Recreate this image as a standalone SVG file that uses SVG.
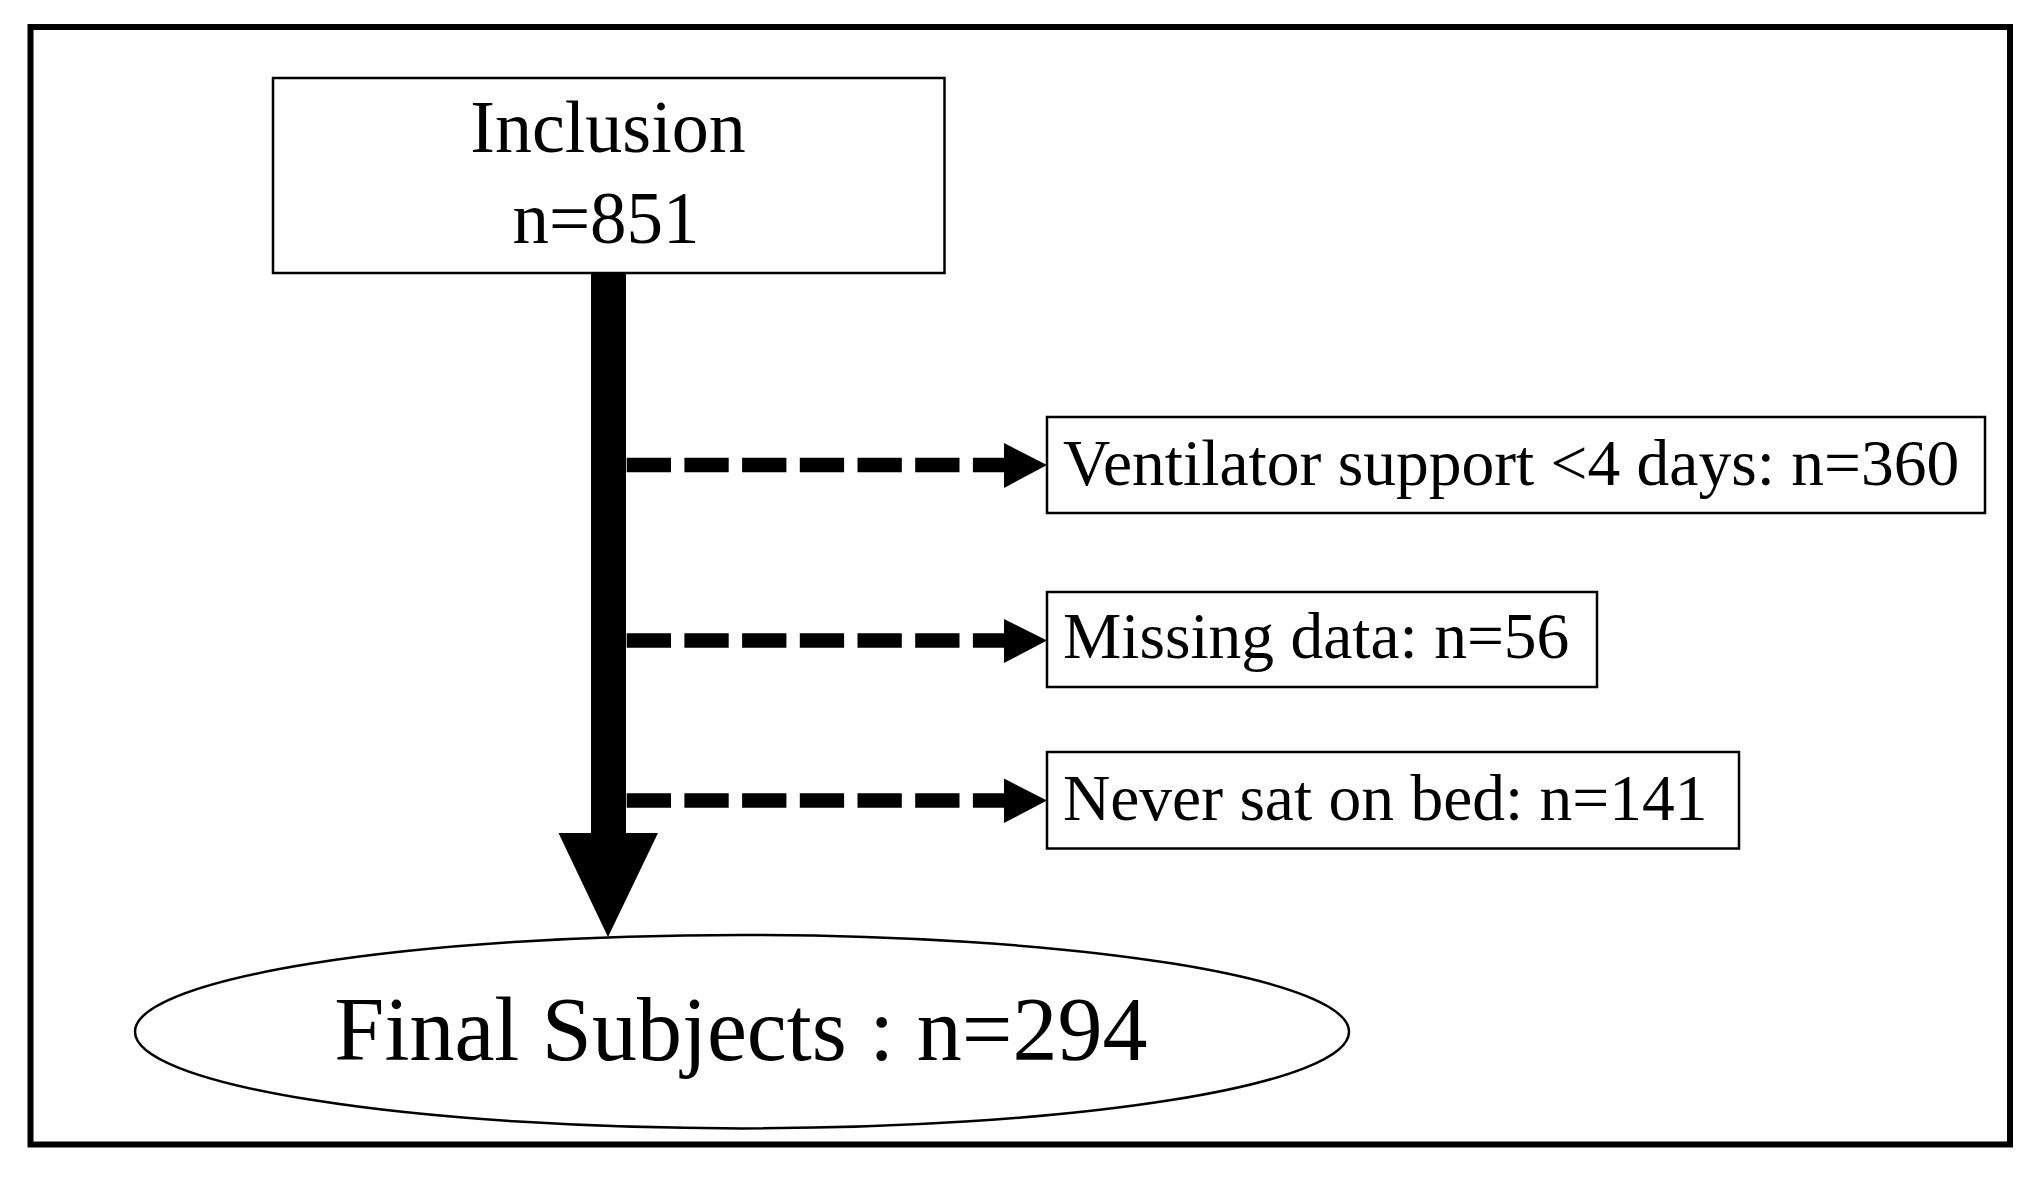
<svg xmlns="http://www.w3.org/2000/svg" width="2044" height="1180" viewBox="0 0 2044 1180">
<style>
.t{font-family:"Liberation Serif","Times New Roman",serif;fill:#000}
.box{fill:#fff;stroke:#000;stroke-width:2.5}
.dash{stroke:#000;stroke-width:14.5;stroke-dasharray:44.3 13.4;fill:none}
</style>
<rect width="2044" height="1180" fill="#fff"/>
<rect x="30.5" y="27" width="1979.5" height="1117.5" fill="none" stroke="#000" stroke-width="6"/>
<g id="connectors">
<rect x="591" y="273" width="35" height="561" fill="#000"/>
<polygon points="558.5,833 658,833 608,937" fill="#000"/>
<line class="dash" x1="626.7" y1="465" x2="1005" y2="465"/>
<polygon points="1004,443 1004,488 1047,465" fill="#000"/>
<line class="dash" x1="626.7" y1="640.5" x2="1005" y2="640.5"/>
<polygon points="1004,619 1004,663 1047,640.5" fill="#000"/>
<line class="dash" x1="626.7" y1="800.5" x2="1005" y2="800.5"/>
<polygon points="1004,778.5 1004,823 1047,800.5" fill="#000"/>
</g>
<g id="inclusion">
<rect class="box" x="273" y="78" width="671.5" height="195"/>
<text class="t" x="608" y="152" font-size="74" text-anchor="middle">Inclusion</text>
<text class="t" x="606" y="243" font-size="73" text-anchor="middle">n=851</text>
</g>
<g id="ventilator">
<rect class="box" x="1047" y="417" width="938" height="96"/>
<text class="t" x="1063" y="485" font-size="65.5">Ventilator support &lt;4 days: n=360</text>
</g>
<g id="missing">
<rect class="box" x="1047" y="592" width="550" height="95"/>
<text class="t" x="1063" y="658" font-size="65.5">Missing data: n=56</text>
</g>
<g id="never">
<rect class="box" x="1047" y="752" width="692" height="96.5"/>
<text class="t" x="1063" y="820" font-size="65.5">Never sat on bed: n=141</text>
</g>
<g id="final">
<ellipse cx="742" cy="1031.7" rx="607" ry="96.7" fill="#fff" stroke="#000" stroke-width="2.5"/>
<text class="t" x="741" y="1060" font-size="90" text-anchor="middle">Final Subjects : n=294</text>
</g>
</svg>
